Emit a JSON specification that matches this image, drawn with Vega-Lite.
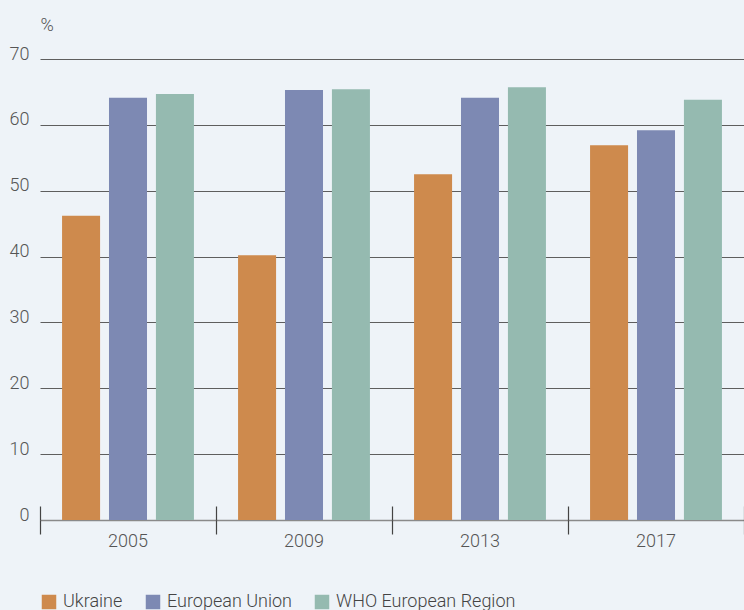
{
  "$schema": "https://vega.github.io/schema/vega-lite/v6.json",
  "width": 704,
  "height": 461,
  "autosize": "none",
  "padding": {"left": 40, "top": 59, "right": 0, "bottom": 90},
  "background": "#eef3f8",
  "config": {"view": {"stroke": null}, "font": "Roboto"},
  "data": {
    "values": [
      {"year": "2005", "region": "Ukraine", "value": 46.2},
      {"year": "2005", "region": "European Union", "value": 64.1},
      {"year": "2005", "region": "WHO European Region", "value": 64.7},
      {"year": "2009", "region": "Ukraine", "value": 40.2},
      {"year": "2009", "region": "European Union", "value": 65.3},
      {"year": "2009", "region": "WHO European Region", "value": 65.4},
      {"year": "2013", "region": "Ukraine", "value": 52.5},
      {"year": "2013", "region": "European Union", "value": 64.1},
      {"year": "2013", "region": "WHO European Region", "value": 65.7},
      {"year": "2017", "region": "Ukraine", "value": 56.9},
      {"year": "2017", "region": "European Union", "value": 59.2},
      {"year": "2017", "region": "WHO European Region", "value": 63.8}
    ]
  },
  "layer": [
    {
      "mark": {"type": "bar"},
      "encoding": {
        "x": {
          "field": "year", "type": "nominal",
          "scale": {"paddingInner": 0, "paddingOuter": 0},
          "axis": {
            "orient": "bottom",
            "title": null, "labelAngle": 0, "labelFontSize": 18, "labelFontWeight": 300, "labelColor": "#555555",
            "labelPadding": 12, "ticks": false, "domainColor": "#8a8a8a", "domainWidth": 1.5,
            "grid": false
          }
        },
        "xOffset": {
          "field": "region", "type": "nominal",
          "sort": ["Ukraine", "European Union", "WHO European Region"],
          "scale": {"paddingInner": 0.19, "paddingOuter": 0.47}
        },
        "y": {
          "field": "value", "type": "quantitative",
          "scale": {"domain": [0, 70]},
          "axis": {
            "values": [0, 10, 20, 30, 40, 50, 60, 70],
            "title": "%", "titleAngle": 0, "titleX": 0, "titleY": -29, "titleAlign": "left",
            "titleBaseline": "alphabetic", "titleFontSize": 18, "titleFontWeight": 300, "titleColor": "#555555",
            "labelFontSize": 18, "labelFontWeight": 300, "labelColor": "#555555", "labelPadding": 11, "labelBaseline": "alphabetic",
            "domain": false, "ticks": false, "grid": true, "gridColor": "#5e5e5e", "gridWidth": 1
          }
        },
        "color": {
          "field": "region", "type": "nominal",
          "sort": ["Ukraine", "European Union", "WHO European Region"],
          "scale": {"domain": ["Ukraine", "European Union", "WHO European Region"], "range": ["#ce8a4d", "#7d89b3", "#95bab0"]},
          "legend": {
            "orient": "none", "legendX": 0, "legendY": 534, "direction": "horizontal", "title": null,
            "symbolType": "square", "symbolSize": 210, "symbolStrokeWidth": 0, "symbolOpacity": 1,
            "labelFontSize": 18, "labelFontWeight": 300, "labelColor": "#444444", "labelOffset": 5,
            "labelLimit": 400, "columnPadding": 21
          }
        }
      }
    },
    {
      "mark": {"type": "bar", "opacity": 0},
      "encoding": {
        "x": {
          "field": "year", "type": "nominal",
          "axis": {
            "orient": "bottom",
            "title": null, "labels": false, "domain": false, "ticks": true, "tickBand": "extent",
            "tickSize": 14, "tickColor": "#444444", "tickWidth": 1.2, "grid": false
          }
        },
        "y": {"field": "value", "type": "quantitative"}
      }
    },
    {
      "mark": {"type": "bar", "opacity": 0},
      "encoding": {
        "x": {
          "field": "year", "type": "nominal",
          "axis": {
            "orient": "bottom",
            "title": null, "labels": false, "domain": false, "ticks": true, "tickBand": "extent",
            "tickSize": -14, "tickColor": "#444444", "tickWidth": 1.2, "grid": false
          }
        },
        "y": {"field": "value", "type": "quantitative"}
      }
    }
  ],
  "resolve": {"axis": {"x": "independent"}}
}
